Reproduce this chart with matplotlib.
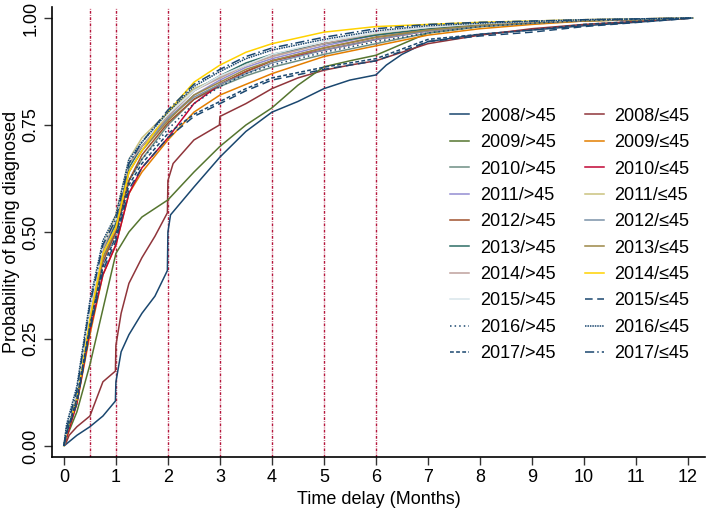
import matplotlib
matplotlib.use("Agg")
import matplotlib.pyplot as plt

plt.rcParams["font.family"] = ["Liberation Sans", "DejaVu Sans"]

# common time grid (months) for the main cluster of curves
T = [0, 0.05, 0.25, 0.5, 0.75, 1, 1.25, 1.5, 2, 2.5, 3, 3.5, 4, 5, 6, 7, 8, 9, 10, 12.1]

# 2008 and 2009 curves have their own time points
t_2008_old = [0, 0.05, 0.25, 0.5, 0.75, 0.99, 1.0, 1.1, 1.25, 1.5, 1.75, 1.99, 2.0, 2.05,
              2.5, 3.0, 3.5, 4.0, 4.5, 5.0, 5.5, 6.0, 6.2, 6.5, 7, 8, 9, 10, 11, 12.1]
p_2008_old = [0, 0.005, 0.025, 0.045, 0.07, 0.105, 0.15, 0.22, 0.26, 0.31, 0.35, 0.41, 0.50, 0.54,
              0.605, 0.675, 0.735, 0.78, 0.805, 0.835, 0.855, 0.867, 0.89, 0.915, 0.945, 0.962,
              0.972, 0.982, 0.99, 1.0]

t_2008_young = [0, 0.05, 0.1, 0.25, 0.5, 0.75, 0.99, 1.0, 1.1, 1.25, 1.5, 1.75, 1.99, 2.0, 2.1,
                2.5, 2.99, 3.0, 3.5, 4, 4.5, 5, 5.5, 6, 6.5, 7, 8, 9, 10, 11, 12.1]
p_2008_young = [0, 0.01, 0.025, 0.045, 0.07, 0.15, 0.175, 0.235, 0.31, 0.38, 0.44, 0.49, 0.545,
                0.62, 0.66, 0.715, 0.75, 0.77, 0.80, 0.835, 0.86, 0.878, 0.89, 0.90, 0.92, 0.94,
                0.96, 0.975, 0.985, 0.992, 1.0]

t_2009_old = [0, 0.05, 0.25, 0.5, 0.75, 1, 1.25, 1.5, 2, 2.5, 3, 3.5, 4, 4.5, 5, 5.5, 6, 7, 8,
              9, 10, 11, 12.1]
p_2009_old = [0, 0.02, 0.08, 0.19, 0.32, 0.45, 0.50, 0.535, 0.575, 0.64, 0.70, 0.75, 0.79, 0.843,
              0.886, 0.90, 0.913, 0.965, 0.98, 0.988, 0.993, 0.996, 1.0]

p_2009_young = [0, .02, .10, .26, .40, .47, .59, .64, .715, .78, .82, .845, .87, .91, .935, .96, .975, .985, .993, 1.0]
p_2010_old = [0, .03, .11, .29, .44, .50, .62, .67, .75, .81, .84, .865, .885, .915, .94, .965, .98, .988, .994, 1.0]
p_2010_young = [0, .02, .10, .27, .40, .47, .59, .65, .72, .80, .845, .875, .90, .925, .95, .97, .983, .99, .995, 1.0]
p_2011_old = [0, .03, .12, .30, .45, .52, .64, .69, .765, .82, .855, .885, .905, .935, .96, .975, .985, .99, .995, 1.0]
p_2011_young = [0, .04, .13, .32, .47, .54, .67, .72, .78, .835, .86, .89, .91, .94, .962, .977, .986, .991, .995, 1.0]
p_2012_old = [0, .03, .11, .29, .43, .50, .62, .68, .755, .81, .845, .875, .90, .93, .955, .972, .985, .99, .995, 1.0]
p_2012_young = [0, .04, .12, .31, .46, .53, .66, .70, .765, .815, .845, .87, .895, .925, .95, .97, .982, .99, .995, 1.0]
p_2013_old = [0, .04, .12, .31, .46, .52, .65, .70, .77, .83, .865, .895, .915, .94, .96, .975, .985, .99, .995, 1.0]
p_2013_young = [0, .03, .11, .29, .44, .51, .64, .69, .76, .82, .85, .88, .90, .93, .955, .972, .983, .99, .995, 1.0]
p_2014_old = [0, .03, .12, .31, .46, .53, .66, .70, .77, .83, .86, .89, .91, .94, .965, .978, .987, .992, .996, 1.0]
p_2014_young = [0, .03, .11, .30, .45, .51, .64, .69, .78, .85, .89, .92, .94, .967, .98, .985, .99, .993, .996, 1.0]
p_2015_old = [0, .04, .13, .32, .47, .53, .67, .71, .775, .83, .865, .89, .915, .945, .965, .978, .987, .992, .996, 1.0]
p_2015_young = [0, .03, .10, .27, .41, .48, .60, .65, .72, .77, .80, .83, .855, .88, .90, .945, .958, .967, .98, 1.0]
p_2016_old = [0, .03, .11, .28, .42, .49, .62, .67, .74, .80, .84, .87, .89, .92, .945, .965, .98, .988, .994, 1.0]
p_2016_young = [0, .05, .14, .34, .48, .54, .67, .71, .78, .84, .875, .905, .925, .95, .97, .982, .988, .992, .996, 1.0]
p_2017_old = [0, .03, .11, .28, .42, .49, .61, .66, .73, .775, .805, .835, .86, .885, .905, .95, .962, .972, .985, 1.0]
p_2017_young = [0, .04, .13, .33, .47, .53, .66, .71, .785, .845, .88, .91, .93, .955, .975, .985, .99, .993, .996, 1.0]

labels = ["2008/>45", "2008/≤45", "2009/>45", "2009/≤45", "2010/>45", "2010/≤45",
          "2011/>45", "2011/≤45", "2012/>45", "2012/≤45", "2013/>45", "2013/≤45",
          "2014/>45", "2014/≤45", "2015/>45", "2015/≤45", "2016/>45", "2016/≤45",
          "2017/>45", "2017/≤45"]

series = [
    (t_2008_old, p_2008_old), (t_2008_young, p_2008_young),
    (t_2009_old, p_2009_old), (T, p_2009_young),
    (T, p_2010_old), (T, p_2010_young),
    (T, p_2011_old), (T, p_2011_young),
    (T, p_2012_old), (T, p_2012_young),
    (T, p_2013_old), (T, p_2013_young),
    (T, p_2014_old), (T, p_2014_young),
    (T, p_2015_old), (T, p_2015_young),
    (T, p_2016_old), (T, p_2016_young),
    (T, p_2017_old), (T, p_2017_young),
]

# Stata s2color palette
colors = ["#1a476f", "#90353b", "#55752f", "#e37e00", "#6e8e84", "#c10534",
          "#938dd2", "#cac27e", "#a0522d", "#7b92a8", "#2d6d66", "#9c8847",
          "#bfa19c", "#ffd200", "#d9e6eb", "#1a476f", "#1a476f", "#1a476f",
          "#1a476f", "#1a476f"]
styles = ["-"] * 15 + [(0, (5, 3)), (0, (1, 2)), (0, (1, 0.6)), (0, (2.5, 1.5)), (0, (6, 2, 1, 2))]

cutoffs = [0.5, 1, 2, 3, 4, 5, 6]

fig = plt.figure(figsize=(7.09, 5.09), dpi=100)
ax = fig.add_axes([0.0733, 0.1022, 0.9211, 0.884])

for x in cutoffs:
    ax.axvline(x, color="#b5173d", lw=1.0, ls=(0, (2, 1, 0.5, 1)), zorder=1)

handles = []
for (t, p), c, s, lab in zip(series, colors, styles, labels):
    h, = ax.plot(t, p, color=c, ls=s, lw=1.1, label=lab, zorder=2)
    handles.append(h)

ax.set_xlim(-0.23, 12.33)
ax.set_ylim(-0.0257, 1.0257)
ax.set_xticks(range(0, 13))
ax.set_yticks([0, 0.25, 0.5, 0.75, 1.0])
ax.set_yticklabels(["0.00", "0.25", "0.50", "0.75", "1.00"], rotation=90, va="center")
ax.tick_params(labelsize=13, length=6, width=1, color="#333333", pad=3)
for side in ["top", "right"]:
    ax.spines[side].set_visible(False)
for side in ["left", "bottom"]:
    ax.spines[side].set_linewidth(1.2)

ax.set_xlabel("Time delay (Months)", fontsize=13, labelpad=3)
ax.set_ylabel("Probability of being diagnosed", fontsize=13, labelpad=2)

# legend: two columns, >45 on the left, ≤45 on the right
order = list(range(0, 20, 2)) + list(range(1, 20, 2))
fig.legend([handles[i] for i in order], [labels[i] for i in order], ncol=2,
           loc="upper left", bbox_to_anchor=(0.622, 0.806), frameon=False,
           fontsize=13, handlelength=1.05, handletextpad=0.6, columnspacing=1.6,
           labelspacing=0.52, borderpad=0)

fig.savefig("out.png", dpi=100, facecolor="white")
